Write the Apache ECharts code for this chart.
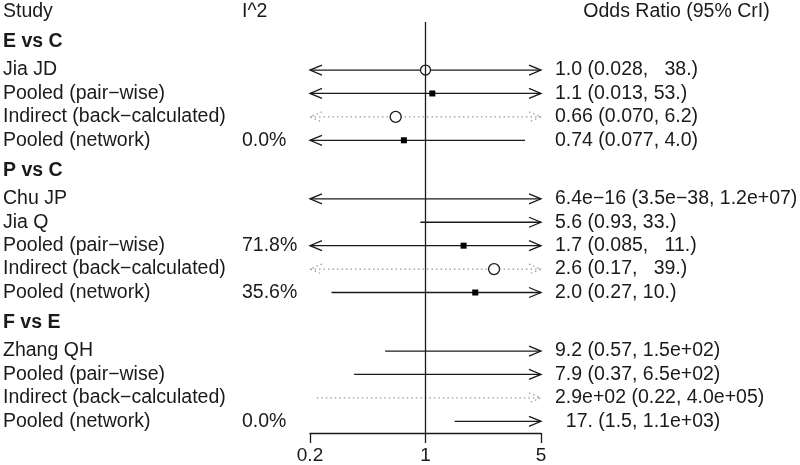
<!DOCTYPE html>
<html>
<head>
<meta charset="utf-8">
<script src="https://cdn.jsdelivr.net/npm/echarts@6/dist/echarts.min.js"></script>
<style>
  html, body { margin: 0; padding: 0; background: #fff; }
  #main { width: 800px; height: 465px; }
</style>
</head>
<body>
<div id="main"></div>
<script>
// --- data ---
const groups = ['E vs C', 'P vs C', 'F vs E']
const groupOf = [0, 0, 0, 0, 1, 1, 1, 1, 1, 2, 2, 2, 2]
const studies = [
  'Jia JD', 'Pooled (pair\u2212wise)', 'Indirect (back\u2212calculated)', 'Pooled (network)',
  'Chu JP', 'Jia Q', 'Pooled (pair\u2212wise)', 'Indirect (back\u2212calculated)', 'Pooled (network)',
  'Zhang QH', 'Pooled (pair\u2212wise)', 'Indirect (back\u2212calculated)', 'Pooled (network)'
]
const kinds = ['study', 'pooled', 'indirect', 'pooled',
  'study', 'study', 'pooled', 'indirect', 'pooled',
  'study', 'pooled', 'indirect', 'pooled']
const i2 = ['', '', '', '0.0%', '', '', '71.8%', '', '35.6%', '', '', '', '0.0%']
const est = [1.0, 1.1, 0.66, 0.74, 6.4e-16, 5.6, 1.7, 2.6, 2.0, 9.2, 7.9, 290, 17]
const lower = [0.028, 0.013, 0.070, 0.077, 3.5e-38, 0.93, 0.085, 0.17, 0.27, 0.57, 0.37, 0.22, 1.5]
const upper = [38, 53, 6.2, 4.0, 1.2e7, 33, 11, 39, 10, 150, 650, 4.0e5, 1100]
const orText = [
  '1.0 (0.028,   38.)', '1.1 (0.013, 53.)', '0.66 (0.070, 6.2)', '0.74 (0.077, 4.0)',
  '6.4e\u221216 (3.5e\u221238, 1.2e+07)', '5.6 (0.93, 33.)', '1.7 (0.085,   11.)', '2.6 (0.17,   39.)', '2.0 (0.27, 10.)',
  '9.2 (0.57, 1.5e+02)', '7.9 (0.37, 6.5e+02)', '2.9e+02 (0.22, 4.0e+05)', '  17. (1.5, 1.1e+03)'
]
const headers = ['Study', 'I^2', 'Odds Ratio (95% CrI)']
const xTicks = [0.2, 1, 5]
const xTickLabels = ['0.2', '1', '5']

const X_MIN = 0.2, X_MAX = 5
const Y_MIN = -2.5, Y_MAX = 15.5
const FONT = "'Liberation Sans', Arial, sans-serif"
const FS = 19.5
const INK = '#1a1a1a'

// row layout: rows one unit apart, extra gap + bold header per group
const rowPos = []
const headPos = []
let pos = 0
groupOf.forEach((g, i) => {
  const first = i === 0 || g !== groupOf[i - 1]
  if (i > 0 && first) pos += 1.5
  if (first) headPos.push(pos - 1.2)
  rowPos.push(pos)
  pos += 1
})
const key = v => Number(v).toFixed(2)

const leftText = {}, i2Text = {}, rightText = {}
leftText[key(Y_MIN)] = headers[0]
i2Text[key(Y_MIN)] = headers[1]
rightText[key(Y_MIN)] = '{h|' + headers[2] + '}'
headPos.forEach((p, g) => { leftText[key(p)] = '{g|' + groups[g] + '}' })
rowPos.forEach((p, i) => {
  leftText[key(p)] = studies[i]
  i2Text[key(p)] = i2[i] || ''
  rightText[key(p)] = orText[i]
})

function labelAxis(position, margin, map) {
  return {
    type: 'value', min: Y_MIN, max: Y_MAX, inverse: true, position,
    axisLine: { show: false }, axisTick: { show: false }, splitLine: { show: false },
    axisLabel: {
      customValues: Object.keys(map).map(Number),
      formatter: v => map[key(v)] || '',
      align: 'left', margin, color: INK, fontSize: FS, fontFamily: FONT,
      rich: {
        g: { fontWeight: 'bold', fontSize: FS, fontFamily: FONT, color: INK },
        h: { width: 243, align: 'center', fontSize: FS, fontFamily: FONT, color: INK }
      }
    }
  }
}

const chart = echarts.init(document.getElementById('main'), null, { renderer: 'canvas' })

function arrowHead(x, y, dir, style) {
  return {
    type: 'polyline',
    shape: { points: [[x + dir * 12, y - 5], [x, y], [x + dir * 12, y + 5]] },
    style
  }
}

const option = {
  animation: false,
  backgroundColor: '#fff',
  grid: { left: 310, right: 259, top: 11.5, bottom: 32, outerBoundsMode: 'none' },
  xAxis: {
    type: 'log', logBase: 10, min: X_MIN, max: X_MAX, position: 'bottom',
    axisLine: { show: true, onZero: false, lineStyle: { color: INK, width: 1.3 } },
    axisTick: { show: true, customValues: xTicks, length: 10, inside: false, lineStyle: { color: INK, width: 1.3 } },
    axisLabel: {
      customValues: xTicks, margin: 13, color: INK, fontSize: 19, fontFamily: FONT,
      formatter: v => {
        const i = xTicks.findIndex(t => Math.abs(t - v) < 1e-6)
        return i >= 0 ? xTickLabels[i] : ''
      }
    },
    splitLine: { show: false }
  },
  yAxis: [
    labelAxis('left', 307, leftText),
    labelAxis('left', 68, i2Text),
    labelAxis('right', 14, rightText)
  ],
  series: [
    {
      // reference line at OR = 1
      type: 'line', silent: true, symbol: 'none', yAxisIndex: 0,
      lineStyle: { color: INK, width: 1.3 },
      data: [[1, -2.05], [1, Y_MAX]]
    },
    {
      type: 'custom', yAxisIndex: 0, silent: true,
      data: rowPos.map((p, i) => [p, est[i], lower[i], upper[i]]),
      renderItem(params, api) {
        const y = api.value(0), e = api.value(1), lo = api.value(2), hi = api.value(3)
        const kind = kinds[params.dataIndex]
        const p0 = api.coord([Math.max(lo, X_MIN), y])
        const p1 = api.coord([Math.min(hi, X_MAX), y])
        const dotted = kind === 'indirect'
        const style = dotted
          ? { stroke: '#9a9a9a', lineWidth: 1.2, lineDash: [1.5, 3], fill: null }
          : { stroke: INK, lineWidth: 1.3, fill: null }
        const children = [{ type: 'line', shape: { x1: p0[0], y1: p0[1], x2: p1[0], y2: p1[1] }, style }]
        if (lo < X_MIN) children.push(arrowHead(p0[0], p0[1], 1, style))
        if (hi > X_MAX) children.push(arrowHead(p1[0], p1[1], -1, style))
        if (e >= X_MIN && e <= X_MAX) {
          const c = api.coord([e, y])
          if (kind === 'pooled') {
            children.push({ type: 'rect', shape: { x: c[0] - 3, y: c[1] - 3, width: 6, height: 6 }, style: { fill: '#000' } })
          } else {
            children.push({ type: 'circle', shape: { cx: c[0], cy: c[1], r: dotted ? 5.5 : 5 }, style: { fill: '#fff', stroke: INK, lineWidth: 1.3 } })
          }
        }
        return { type: 'group', children }
      }
    }
  ]
}

chart.setOption(option)
</script>
</body>
</html>
